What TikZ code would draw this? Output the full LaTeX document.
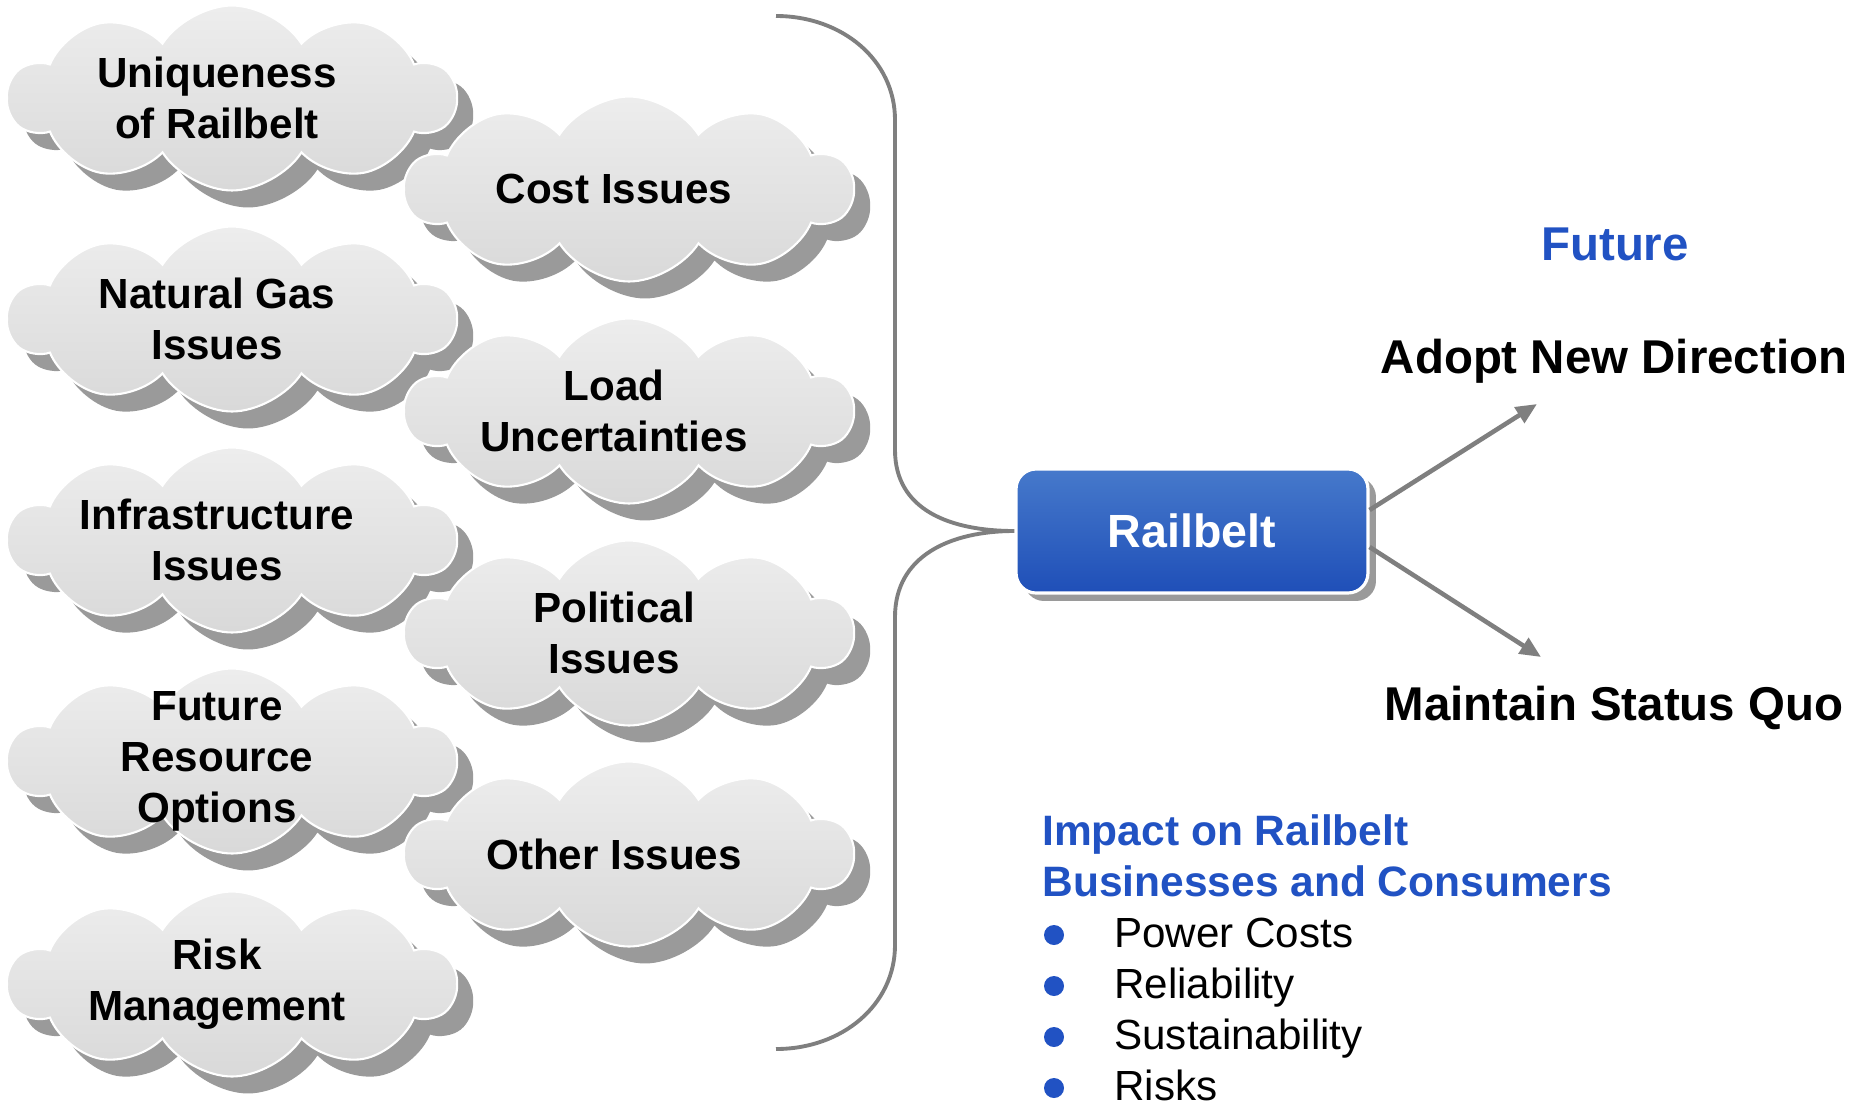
\documentclass[tikz,border=0pt]{standalone}
\usepackage{fontspec}
\setmainfont{Liberation Sans}
\usetikzlibrary{
	shapes.symbols,     %云朵形状
	shadows,            %阴影
	arrows.meta,        %提供各种箭头
	positioning         %定位
}
\definecolor{futblue}{HTML}{2152C3}
\definecolor{boxtop}{HTML}{4679CB}
\definecolor{boxbot}{HTML}{1F4FB8}
\definecolor{linegray}{HTML}{7F7F7F}
\definecolor{shadowgray}{HTML}{9A9A9A}
\tikzset{
	every picture/.style={
		x=0.02cm,y=-0.02cm  %按像素定位,y向下
	},
	issue/.style={cloud, cloud puffs=10, cloud puff arc=115,
		cloud ignores aspect,
		minimum width=8.95cm, minimum height=3.7cm, inner sep=0pt,
		draw=white, line width=1.2pt,
		top color=gray!14, bottom color=gray!30,
		drop shadow={shadow xshift=0.32cm, shadow yshift=-0.34cm,
			fill=shadowgray, opacity=1}},
	issuetext/.style={align=center, inner sep=0pt, xshift=-0.3cm,
		font=\fontsize{24}{29}\selectfont\bfseries},
	hub/.style={rectangle, rounded corners=0.4cm,
		minimum width=7.04cm, minimum height=2.48cm,
		top color=boxtop, bottom color=boxbot,
		draw=white, line width=1.8pt,
		drop shadow={shadow xshift=0.16cm, shadow yshift=-0.16cm,
			fill=shadowgray, opacity=1},
		text=white, font=\fontsize{26.5}{32}\selectfont\bfseries},
	choice/.style={anchor=base, font=\fontsize{27}{32}\selectfont\bfseries},
	branch/.style={draw=linegray, line width=2.6pt,
		-{Triangle[length=0.42cm,width=0.36cm]}},
	brace/.style={draw=linegray, line width=2.2pt}
}

\begin{document}
\begin{tikzpicture}
\useasboundingbox (0,0) rectangle (1868,1102);
%左列云朵
\node[issue] (uniq) at (232,98) {};
\node[issuetext] (uniq-t) at (uniq.center) {Uniqueness\\of Railbelt};
\node[issue] (gas) at (232,319) {};
\node[issuetext] (gas-t) at (gas.center) {Natural Gas\\Issues};
\node[issue] (infra) at (232,540) {};
\node[issuetext] (infra-t) at (infra.center) {Infrastructure\\Issues};
\node[issue] (resource) at (232,761) {};
\node[issuetext] (resource-t) at (resource.center) {Future\\Resource\\Options};
\node[issue] (risk) at (232,984) {};
\node[issuetext] (risk-t) at (risk.center) {Risk\\Management};
%右列云朵
\node[issue] (cost) at (629,189) {};
\node[issuetext] (cost-t) at (cost.center) {Cost Issues};
\node[issue] (load) at (629,411) {};
\node[issuetext] (load-t) at (load.center) {Load\\Uncertainties};
\node[issue] (political) at (629,633) {};
\node[issuetext] (political-t) at (political.center) {Political\\Issues};
\node[issue] (other) at (629,854) {};
\node[issuetext] (other-t) at (other.center) {Other Issues};
%中心方框
\node[hub] (railbelt) at (1192,531) {Railbelt};
%大括号
\coordinate (bractop) at (776,16);
\coordinate (bracbot) at (776,1049);
\draw[brace] (bractop) .. controls (842,16) and (895,60) .. (895,120)
	-- (895,450) .. controls (895,510) and (950,531) .. (railbelt.west)
	.. controls (950,531) and (895,556) .. (895,617)
	-- (895,945) .. controls (895,1005) and (842,1049) .. (bracbot);
%两个方向
\node[choice, text=futblue] (future) at (1615,260) {Future};
\node[choice] (adopt) at (1614,373) {Adopt New Direction};
\node[choice] (maintain) at (1614,720) {Maintain Status Quo};
\coordinate (adoptend) at (1537,404);
\coordinate (keepend) at (1541,657);
\draw[branch] ([yshift=0.42cm]railbelt.east) -- (adoptend);
\draw[branch] ([yshift=-0.32cm]railbelt.east) -- (keepend);
%影响列表
\node[anchor=north west, inner sep=0pt, align=left, text=futblue,
	font=\fontsize{24.2}{29}\selectfont\bfseries]
	(impact) at (1042,814) {Impact on Railbelt\\Businesses and Consumers};
\foreach \txt [count=\i] in {Power Costs, Reliability, Sustainability, Risks}{
	\fill[futblue] (1054,{935+51*(\i-1)}) circle[radius=0.2cm];
	\node[anchor=base west, inner sep=0pt,
		font=\fontsize{24}{29}\selectfont]
		(item\i) at (1114,{947+51*(\i-1)}) {\txt};
}
\end{tikzpicture}
\end{document}
